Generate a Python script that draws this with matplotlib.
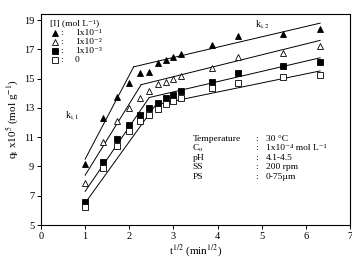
import numpy as np
import matplotlib
matplotlib.use("Agg")
import matplotlib.pyplot as plt

plt.rcParams['font.family'] = ['Liberation Serif', 'DejaVu Serif']
plt.rcParams['mathtext.fontset'] = 'stix'

# sqrt(time) values (min^1/2)
t_sqrt = [1.0, 1.414, 1.732, 2.0, 2.236, 2.449, 2.646, 2.828, 3.0, 3.162,
          3.873, 4.472, 5.477, 6.325]

series_labels = ["1x10⁻¹", "1x10⁻²", "1x10⁻³", "0"]

q_1e1 = [9.15, 12.3, 13.77, 14.7, 15.4, 15.47, 16.05, 16.3, 16.5, 16.65,
         17.3, 17.9, 18.05, 18.4]
q_1e2 = [7.85, 10.65, 12.1, 12.97, 13.65, 14.17, 14.63, 14.75, 15.0, 15.17,
         15.75, 16.5, 16.77, 17.2]
q_1e3 = [6.55, 9.32, 10.85, 11.83, 12.51, 12.97, 13.31, 13.67, 13.9, 14.12,
         14.75, 15.36, 15.86, 16.15]
q_0 = [6.2, 8.9, 10.4, 11.4, 12.12, 12.51, 12.9, 13.23, 13.5, 13.68,
       14.34, 14.73, 15.09, 15.25]

# two-stage intraparticle diffusion fits: q = k*t^1/2 + C
k1 = [5.73, 4.87, 4.41, 4.19]
c1 = [3.77, 3.53, 2.89, 2.31]
k2 = [0.706, 0.746, 0.70, 0.62]
c2 = [14.32, 12.89, 11.99, 11.60]

conditions = ["Temperature", r"C$_{\rm o}$", "pH", "SS", "PS"]
cond_values = ["30 °C", "1x10⁻⁴ mol L⁻¹", "4.1-4.5", "200 rpm",
               "0-75µm"]

fig = plt.figure(figsize=(3.52, 2.57), dpi=100)
ax = fig.add_axes([0.1165, 0.1245, 0.8775, 0.821])

all_q = [q_1e1, q_1e2, q_1e3, q_0]
markers = ['^', '^', 's', 's']
faces = ['black', 'white', 'black', 'white']
msz = [4.3, 4.3, 3.7, 3.7]

xs_start = t_sqrt[0]
xs_end = t_sqrt[-1]
for i, q in enumerate(all_q):
    knee = (c2[i] - c1[i]) / (k1[i] - k2[i])
    xa = np.array([xs_start, knee])
    xb = np.array([knee, xs_end])
    ax.plot(xa, k1[i] * xa + c1[i], color='black', lw=0.7)
    ax.plot(xb, k2[i] * xb + c2[i], color='black', lw=0.7)
    ax.plot(t_sqrt, q, linestyle='none', marker=markers[i], ms=msz[i],
            mfc=faces[i], mec='black', mew=0.6)

ax.set_xlim(0, 7)
ax.set_ylim(5, 19.41)
ax.set_xticks(range(0, 8))
ax.set_yticks(range(5, 20, 2))
ax.tick_params(direction='out', length=3, width=0.7, labelsize=7.5, pad=2)
for s in ax.spines.values():
    s.set_linewidth(0.8)

ax.set_xlabel(r"t$^{1/2}$ (min$^{1/2}$)", fontsize=8, labelpad=1)
ax.set_ylabel(r"q$_{\rm t}$ x10$^{5}$ (mol g$^{-1}$)", fontsize=8, labelpad=2)

# legend block
ax.text(0.2, 18.75, "[I] (mol L⁻¹)", fontsize=6.8, va='center')
leg_y = [18.12, 17.5, 16.88, 16.26]
for i in range(4):
    ax.plot([0.32], [leg_y[i]], linestyle='none', marker=markers[i], ms=msz[i],
            mfc=faces[i], mec='black', mew=0.6)
    ax.text(0.44, leg_y[i], ":", fontsize=6.8, va='center')
    ax.text(0.77, leg_y[i], series_labels[i], fontsize=6.8, va='center')

ax.text(0.55, 12.5, r"k$_{\rm i,1}$", fontsize=7, va='center')
ax.text(4.86, 18.66, r"k$_{\rm i,2}$", fontsize=7, va='center')

# experimental conditions
cond_y = [10.9, 10.25, 9.6, 8.95, 8.3]
for i in range(5):
    ax.text(3.43, cond_y[i], conditions[i], fontsize=6.8, va='center')
    ax.text(4.85, cond_y[i], ":", fontsize=6.8, va='center')
    ax.text(5.1, cond_y[i], cond_values[i], fontsize=6.8, va='center')

fig.savefig("out.png", dpi=100)
